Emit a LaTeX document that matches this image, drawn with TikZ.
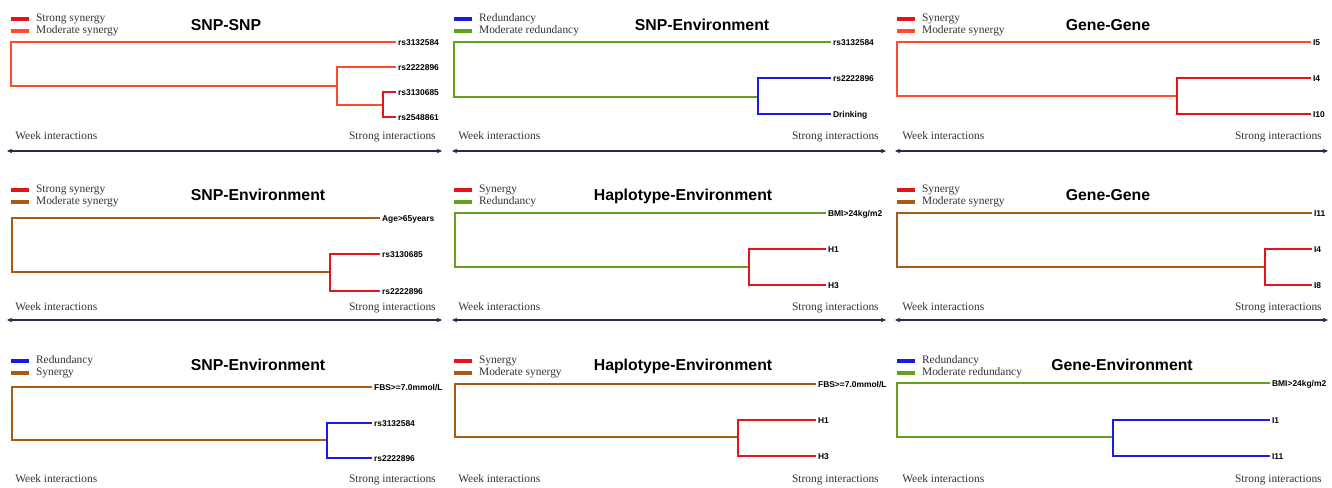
\documentclass[tikz,border=0pt]{standalone}
\usepackage{fontspec}
\setmainfont{Liberation Serif}
\newfontfamily\headfont{Liberation Sans}
\usetikzlibrary{positioning,arrows.meta}
\definecolor{synred}{HTML}{E3141B}
\definecolor{synorange}{HTML}{FF4B2B}
\definecolor{synbrown}{HTML}{A65B16}
\definecolor{redblue}{HTML}{1A1AE6}
\definecolor{redgreen}{HTML}{62A01E}
\definecolor{axisnavy}{HTML}{262B4A}
\definecolor{labgray}{HTML}{333333}

\begin{document}
\begin{tikzpicture}[x=0.02cm,y=-0.02cm]

      \useasboundingbox (0,0) rectangle (1332,487);

      \begin{scope}[every node/.style={font=\headfont\bfseries\fontsize{9}{10}\selectfont,anchor=base}]
        \node (t1) at (226,30.5)  {SNP-SNP};
        \node (t2) at (702,30.5)  {SNP-Environment};
        \node (t3) at (1108,30.5) {Gene-Gene};
        \node (t4) at (258,200)   {SNP-Environment};
        \node (t5) at (683,200)   {Haplotype-Environment};
        \node (t6) at (1108,200)  {Gene-Gene};
        \node (t7) at (258,370.5) {SNP-Environment};
        \node (t8) at (683,370.5) {Haplotype-Environment};
        \node (t9) at (1122,370.5) {Gene-Environment};
      \end{scope}

      \begin{scope}[every node/.style={rectangle,inner sep=0pt,minimum width=.37cm,minimum height=.08cm}]
        \node[fill=synred]    (k1a) at (20,19)   {};
        \node[fill=synorange] (k1b) at (20,31)   {};
        \node[fill=redblue]   (k2a) at (463,19)  {};
        \node[fill=redgreen]  (k2b) at (463,31)  {};
        \node[fill=synred]    (k3a) at (906,19)  {};
        \node[fill=synorange] (k3b) at (906,31)  {};
        \node[fill=synred]    (k4a) at (20,190)  {};
        \node[fill=synbrown]  (k4b) at (20,202)  {};
        \node[fill=synred]    (k5a) at (463,190) {};
        \node[fill=redgreen]  (k5b) at (463,202) {};
        \node[fill=synred]    (k6a) at (906,190) {};
        \node[fill=synbrown]  (k6b) at (906,202) {};
        \node[fill=redblue]   (k7a) at (20,361)  {};
        \node[fill=synbrown]  (k7b) at (20,373)  {};
        \node[fill=synred]    (k8a) at (463,361) {};
        \node[fill=synbrown]  (k8b) at (463,373) {};
        \node[fill=redblue]   (k9a) at (906,361) {};
        \node[fill=redgreen]  (k9b) at (906,373) {};
      \end{scope}

      \begin{scope}[every node/.style={inner sep=0pt,text=labgray,font=\fontsize{6.5}{7}\selectfont,text height=4.6pt,text depth=1.3pt}]
        \node[right=3.5pt of k1a] (l1a) {Strong synergy};
        \node[right=3.5pt of k1b] (l1b) {Moderate synergy};
        \node[right=3.5pt of k2a] (l2a) {Redundancy};
        \node[right=3.5pt of k2b] (l2b) {Moderate redundancy};
        \node[right=3.5pt of k3a] (l3a) {Synergy};
        \node[right=3.5pt of k3b] (l3b) {Moderate synergy};
        \node[right=3.5pt of k4a] (l4a) {Strong synergy};
        \node[right=3.5pt of k4b] (l4b) {Moderate synergy};
        \node[right=3.5pt of k5a] (l5a) {Synergy};
        \node[right=3.5pt of k5b] (l5b) {Redundancy};
        \node[right=3.5pt of k6a] (l6a) {Synergy};
        \node[right=3.5pt of k6b] (l6b) {Moderate synergy};
        \node[right=3.5pt of k7a] (l7a) {Redundancy};
        \node[right=3.5pt of k7b] (l7b) {Synergy};
        \node[right=3.5pt of k8a] (l8a) {Synergy};
        \node[right=3.5pt of k8b] (l8b) {Moderate synergy};
        \node[right=3.5pt of k9a] (l9a) {Redundancy};
        \node[right=3.5pt of k9b] (l9b) {Moderate redundancy};

        \node[anchor=west] (w1) at (15,137)   {Week interactions};
        \node[anchor=east] (s1) at (436,137)  {Strong interactions};
        \node[anchor=west] (w2) at (458,137)  {Week interactions};
        \node[anchor=east] (s2) at (879,137)  {Strong interactions};
        \node[anchor=west] (w3) at (902,137)  {Week interactions};
        \node[anchor=east] (s3) at (1322,137) {Strong interactions};
        \node[anchor=west] (w4) at (15,308)   {Week interactions};
        \node[anchor=east] (s4) at (436,308)  {Strong interactions};
        \node[anchor=west] (w5) at (458,308)  {Week interactions};
        \node[anchor=east] (s5) at (879,308)  {Strong interactions};
        \node[anchor=west] (w6) at (902,308)  {Week interactions};
        \node[anchor=east] (s6) at (1322,308) {Strong interactions};
        \node[anchor=west] (w7) at (15,480)   {Week interactions};
        \node[anchor=east] (s7) at (436,480)  {Strong interactions};
        \node[anchor=west] (w8) at (458,480)  {Week interactions};
        \node[anchor=east] (s8) at (879,480)  {Strong interactions};
        \node[anchor=west] (w9) at (902,480)  {Week interactions};
        \node[anchor=east] (s9) at (1322,480) {Strong interactions};
      \end{scope}

      \begin{scope}[every node/.style={anchor=west,inner sep=1pt,font=\headfont\bfseries\fontsize{4.8}{5}\selectfont,text height=3.5pt,text depth=0pt}]
        \node (1a) at (396,42)   {rs3132584};
        \node (1b) at (396,67)   {rs2222896};
        \node (1c) at (396,92)   {rs3130685};
        \node (1d) at (396,117)  {rs2548861};
        \node (2a) at (831,42)   {rs3132584};
        \node (2b) at (831,78)   {rs2222896};
        \node (2c) at (831,114)  {Drinking};
        \node (3a) at (1311,42)  {I5};
        \node (3b) at (1311,78)  {I4};
        \node (3c) at (1311,114) {I10};
        \node (4a) at (380,218)  {Age>65years};
        \node (4b) at (380,254)  {rs3130685};
        \node (4c) at (380,291)  {rs2222896};
        \node (5a) at (826,213)  {BMI>24kg/m2};
        \node (5b) at (826,249)  {H1};
        \node (5c) at (826,285)  {H3};
        \node (6a) at (1312,213) {I11};
        \node (6b) at (1312,249) {I4};
        \node (6c) at (1312,285) {I8};
        \node (7a) at (372,387)  {FBS>=7.0mmol/L};
        \node (7b) at (372,423)  {rs3132584};
        \node (7c) at (372,458)  {rs2222896};
        \node (8a) at (816,384)  {FBS>=7.0mmol/L};
        \node (8b) at (816,420)  {H1};
        \node (8c) at (816,456)  {H3};
        \node (9a) at (1270,383) {BMI>24kg/m2};
        \node (9b) at (1270,420) {I1};
        \node (9c) at (1270,456) {I11};
      \end{scope}

      \coordinate (1r) at (11,86);   \coordinate (1u) at (337,86);  \coordinate (1v) at (383,105);
      \coordinate (2r) at (454,97);  \coordinate (2u) at (758,97);
      \coordinate (3r) at (897,96);  \coordinate (3u) at (1177,96);
      \coordinate (4r) at (12,272);  \coordinate (4u) at (330,272);
      \coordinate (5r) at (455,267); \coordinate (5u) at (749,267);
      \coordinate (6r) at (897,267); \coordinate (6u) at (1265,267);
      \coordinate (7r) at (12,440);  \coordinate (7u) at (327,440);
      \coordinate (8r) at (455,437); \coordinate (8u) at (738,437);
      \coordinate (9r) at (897,437); \coordinate (9u) at (1113,437);

      \begin{scope}[line width=1.5pt]
        \draw[synorange] (1a.west) -| (1r) -- (1u);
        \draw[synorange] (1b.west) -| (1u) |- (1v);
        \draw[synred]    (1c.west) -| (1v) |- (1d.west);
        \draw[redgreen]  (2a.west) -| (2r) -- (2u);
        \draw[redblue]   (2b.west) -| (2u) |- (2c.west);
        \draw[synorange] (3a.west) -| (3r) -- (3u);
        \draw[synred]    (3b.west) -| (3u) |- (3c.west);
        \draw[synbrown]  (4a.west) -| (4r) -- (4u);
        \draw[synred]    (4b.west) -| (4u) |- (4c.west);
        \draw[redgreen]  (5a.west) -| (5r) -- (5u);
        \draw[synred]    (5b.west) -| (5u) |- (5c.west);
        \draw[synbrown]  (6a.west) -| (6r) -- (6u);
        \draw[synred]    (6b.west) -| (6u) |- (6c.west);
        \draw[synbrown]  (7a.west) -| (7r) -- (7u);
        \draw[redblue]   (7b.west) -| (7u) |- (7c.west);
        \draw[synbrown]  (8a.west) -| (8r) -- (8u);
        \draw[synred]    (8b.west) -| (8u) |- (8c.west);
        \draw[redgreen]  (9a.west) -| (9r) -- (9u);
        \draw[redblue]   (9b.west) -| (9u) |- (9c.west);
      \end{scope}

      \coordinate (x1a) at (7,151);   \coordinate (x1b) at (442,151);
      \coordinate (x2a) at (452,151); \coordinate (x2b) at (886,151);
      \coordinate (x3a) at (895,151); \coordinate (x3b) at (1328,151);
      \coordinate (x4a) at (7,320);   \coordinate (x4b) at (442,320);
      \coordinate (x5a) at (452,320); \coordinate (x5b) at (886,320);
      \coordinate (x6a) at (895,320); \coordinate (x6b) at (1328,320);

      \begin{scope}[every edge/.style={draw=axisnavy,line width=.9pt,{Stealth[length=3pt,width=2.6pt]}-{Stealth[length=3pt,width=2.6pt]}}]
        \path (x1a) edge (x1b);
        \path (x2a) edge (x2b);
        \path (x3a) edge (x3b);
        \path (x4a) edge (x4b);
        \path (x5a) edge (x5b);
        \path (x6a) edge (x6b);
      \end{scope}

    \end{tikzpicture}
\end{document}
